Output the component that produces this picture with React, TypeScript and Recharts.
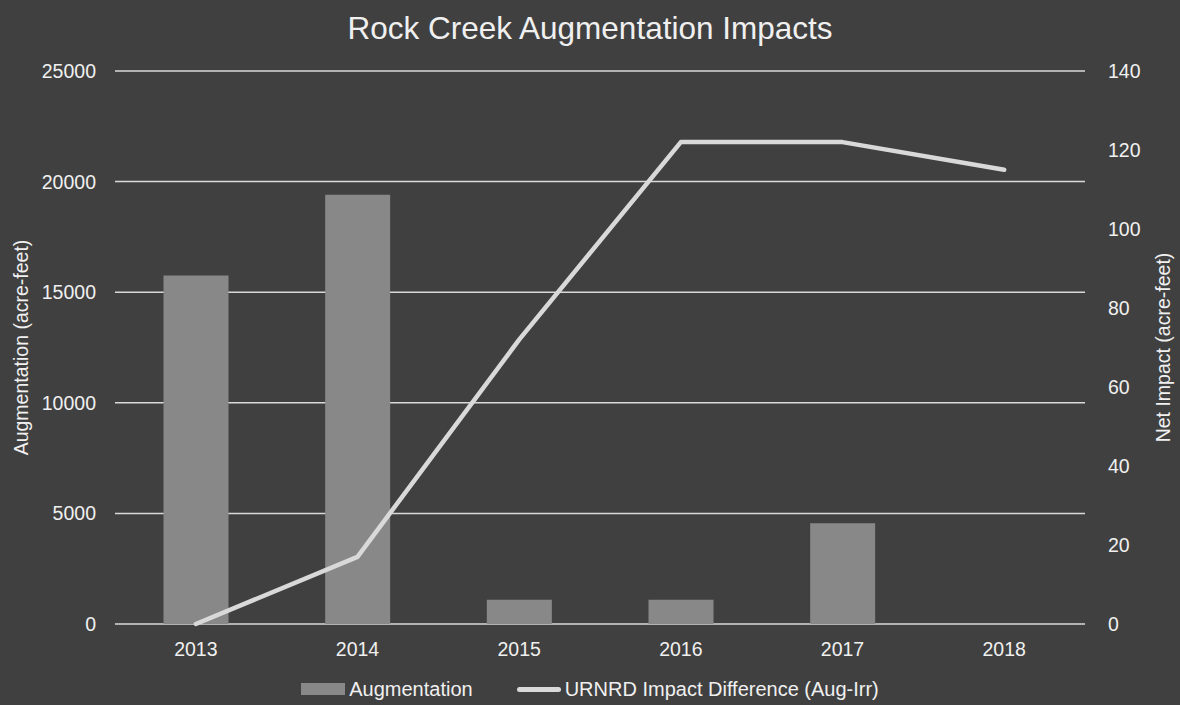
import React from "react";
import {
  ComposedChart,
  Bar,
  Line,
  XAxis,
  YAxis,
  CartesianGrid,
  Legend,
} from "recharts";

const years = ["2013", "2014", "2015", "2016", "2017", "2018"];
const augmentation = [15750, 19400, 1100, 1100, 4560, 0];
const impactDifference = [0, 17, 72, 122, 122, 115];
const leftTicks = [0, 5000, 10000, 15000, 20000, 25000];
const rightTicks = [0, 20, 40, 60, 80, 100, 120, 140];

const data = years.map((y, i) => ({
  year: y,
  augmentation: augmentation[i],
  impact: impactDifference[i],
}));

const BG = "#404040";
const BAR = "#888888";
const LINE = "#d9d9d9";
const GRID = "#d9d9d9";
const TEXT = "#f0f0f0";
const FONT = "'Liberation Sans', Arial, sans-serif";

const LegendContent = () => (
  <div
    style={{
      display: "flex",
      justifyContent: "center",
      alignItems: "center",
      fontFamily: FONT,
      fontSize: 20,
      color: TEXT,
      height: 30,
      marginTop: 14,
    }}
  >
    <div style={{ display: "flex", alignItems: "center" }}>
      <div style={{ width: 44, height: 12, background: BAR, marginRight: 4 }} />
      <span>Augmentation</span>
    </div>
    <div style={{ display: "flex", alignItems: "center", marginLeft: 44 }}>
      <div
        style={{
          width: 44,
          height: 5,
          background: LINE,
          borderRadius: 3,
          marginRight: 4,
        }}
      />
      <span>URNRD Impact Difference (Aug-Irr)</span>
    </div>
  </div>
);

export default function App() {
  return (
    <div
      style={{
        position: "absolute",
        left: 0,
        top: 0,
        width: 1180,
        height: 705,
        background: BG,
        fontFamily: FONT,
      }}
    >
      <div
        style={{
          position: "absolute",
          left: 0,
          top: 8,
          width: 1180,
          textAlign: "center",
          color: TEXT,
          fontSize: 31.5,
          fontFamily: FONT,
          lineHeight: "40px",
        }}
      >
        Rock Creek Augmentation Impacts
      </div>
      <ComposedChart
        width={1180}
        height={705}
        data={data}
        margin={{ top: 71, right: 0, left: 0, bottom: 10 }}
        barCategoryGap="30%"
      >
        <CartesianGrid
          vertical={false}
          horizontal={true}
          stroke={GRID}
          strokeWidth={1.5}
          yAxisId="left"
        />
        <XAxis
          dataKey="year"
          axisLine={false}
          tickLine={false}
          tickSize={0}
          tickMargin={18}
          height={36}
          tick={{ fill: TEXT, fontSize: 19.5, fontFamily: FONT }}
        />
        <YAxis
          yAxisId="left"
          orientation="left"
          domain={[0, 25000]}
          ticks={leftTicks}
          axisLine={false}
          tickLine={false}
          tickSize={0}
          tickMargin={19}
          width={115}
          interval={0}
          tick={{ fill: TEXT, fontSize: 19.5, fontFamily: FONT }}
          label={{
            value: "Augmentation (acre-feet)",
            angle: -90,
            position: "insideLeft",
            offset: 21,
            style: { textAnchor: "middle", fill: TEXT, fontSize: 19.5, fontFamily: FONT },
          }}
        />
        <YAxis
          yAxisId="right"
          orientation="right"
          domain={[0, 140]}
          ticks={rightTicks}
          axisLine={false}
          tickLine={false}
          tickSize={0}
          tickMargin={23}
          width={95}
          interval={0}
          tick={{ fill: TEXT, fontSize: 19.5, fontFamily: FONT }}
          label={{
            value: "Net Impact (acre-feet)",
            angle: -90,
            position: "insideRight",
            offset: 17,
            style: { textAnchor: "middle", fill: TEXT, fontSize: 19.5, fontFamily: FONT },
          }}
        />
        <Bar
          yAxisId="left"
          dataKey="augmentation"
          name="Augmentation"
          fill={BAR}
          isAnimationActive={false}
        />
        <Line
          yAxisId="right"
          dataKey="impact"
          name="URNRD Impact Difference (Aug-Irr)"
          stroke={LINE}
          strokeWidth={4.5}
          strokeLinecap="round"
          strokeLinejoin="round"
          dot={false}
          activeDot={false}
          type="linear"
          isAnimationActive={false}
        />
        <Legend
          verticalAlign="bottom"
          height={35}
          content={<LegendContent />}
          wrapperStyle={{ left: 0, width: 1180 }}
        />
      </ComposedChart>
    </div>
  );
}
